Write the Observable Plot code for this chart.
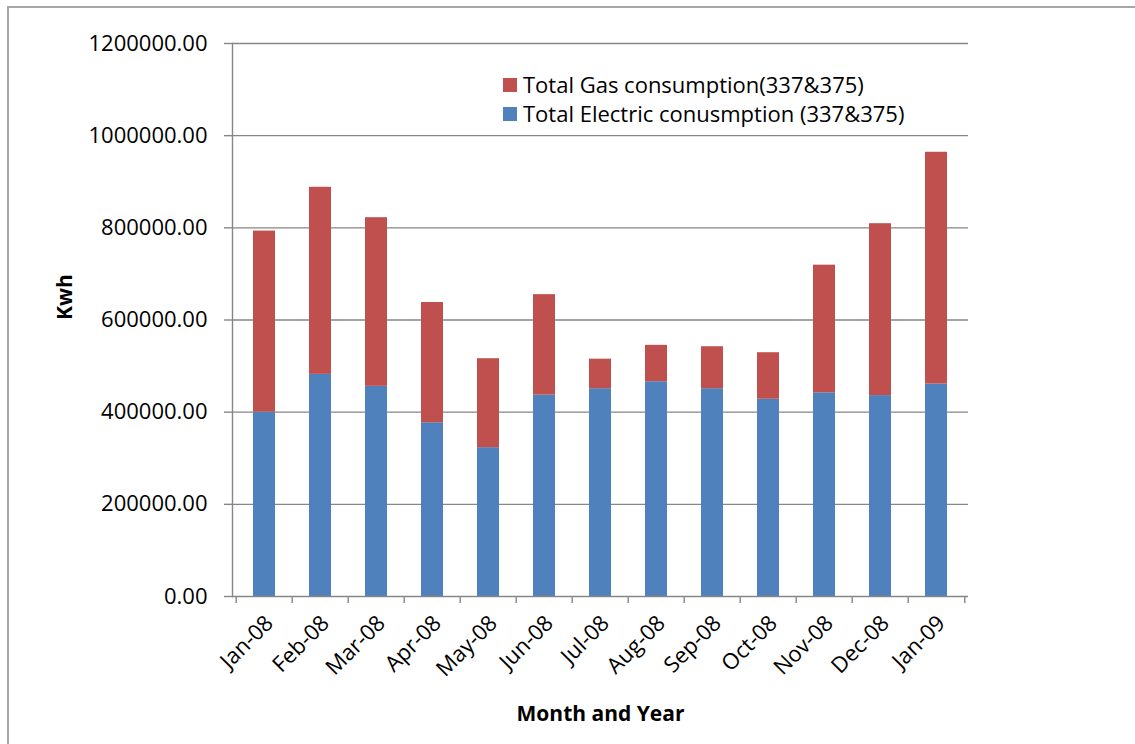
<!DOCTYPE html>
<html>
<head>
<meta charset="utf-8">
<script src="https://cdn.jsdelivr.net/npm/d3@7"></script>
<script src="https://cdn.jsdelivr.net/npm/@observablehq/plot@0.6"></script>
<style>
  body { margin: 0; background: #fff; font-family: "Open Sans", sans-serif; }
  #wrap { position: relative; width: 1135px; height: 744px; overflow: hidden; }
  #border { position: absolute; left: 7px; top: 6px; width: 1300px; height: 900px;
            border-left: 2px solid #a6a6a6; border-top: 2px solid #a6a6a6; }
  #chart { position: absolute; left: 0; top: 0; }
  .legend { position: absolute; left: 503px; top: 70px; font-size: 22px; line-height: 29px; color: #000; }
  .legend div { display: flex; align-items: center; white-space: nowrap; }
  .legend .sw { display: inline-block; width: 14px; height: 14px; margin-right: 6px; }
</style>
</head>
<body>
<div id="wrap">
  <div id="border"></div>
  <div id="chart"></div>
  <div class="legend" id="legend"></div>
</div>
<script>
// Monthly consumption for buildings 337 & 375, in kWh
const months = ["Jan-08", "Feb-08", "Mar-08", "Apr-08", "May-08", "Jun-08", "Jul-08",
                "Aug-08", "Sep-08", "Oct-08", "Nov-08", "Dec-08", "Jan-09"];
const electric = [400000, 482000, 456000, 377000, 323000, 437000, 451000,
                  466000, 451000, 428000, 442000, 436000, 461000];
const gas = [393000, 406000, 366000, 261000, 193000, 218000, 64000,
             79000, 91000, 101000, 277000, 373000, 503000];
const seriesNames = ["Total Gas consumption(337&375)", "Total Electric conusmption (337&375)"];
const seriesColors = ["#C0504D", "#4F81BD"];
const yTicks = [0, 200000, 400000, 600000, 800000, 1000000, 1200000];

const W = 1135, H = 744;
const ML = 232, MR = 167, MT = 43, MB = 148;
const step = (W - ML - MR) / months.length;
const axisColor = "#868686";

// electric first so it sits at the bottom of each stack
const rows = months.flatMap((m, i) => [
  {month: m, series: seriesNames[1], value: electric[i]},
  {month: m, series: seriesNames[0], value: gas[i]}
]);

const plot = Plot.plot({
  width: W, height: H,
  marginLeft: ML, marginRight: MR, marginTop: MT, marginBottom: MB,
  style: {fontFamily: "'Open Sans', sans-serif", fontSize: "22px", color: "#000", background: "transparent"},
  x: {domain: months, paddingInner: 0.6, paddingOuter: 0.3, label: null},
  y: {domain: [0, 1200000], label: null},
  color: {domain: seriesNames, range: seriesColors},
  marks: [
    Plot.gridY(yTicks.slice(1), {stroke: axisColor, strokeOpacity: 1, strokeWidth: 1.4}),
    Plot.barY(rows, {x: "month", y: "value", fill: "series"}),
    Plot.ruleY([0], {stroke: axisColor, strokeWidth: 1.4}),
    Plot.frame({anchor: "left", stroke: axisColor, strokeWidth: 1.4}),
    Plot.axisY(yTicks, {tickSize: 8, tickPadding: 17, tickFormat: d => d.toFixed(2),
                        stroke: axisColor, strokeWidth: 1.4, fontSize: 22, fill: "#000", label: null}),
    // category boundary ticks
    Plot.axisX(months, {tickSize: 7, dx: -step / 2, tickFormat: () => "", stroke: axisColor, strokeWidth: 1.4, label: null}),
    Plot.axisX(months.slice(-1), {tickSize: 7, dx: step / 2, tickFormat: () => "", stroke: axisColor, strokeWidth: 1.4, label: null}),
    // rotated month labels
    Plot.axisX({tickSize: 0, tickRotate: -45, tickPadding: 6, dx: 5, dy: 17, fontSize: 22, fill: "#000", label: null}),
    Plot.text(["Kwh"], {frameAnchor: "left", dx: 65 - ML, rotate: -90, fontWeight: "bold", fontSize: 21, fill: "#000"}),
    Plot.text(["Month and Year"], {frameAnchor: "bottom", dy: 124, fontWeight: "bold", fontSize: 21, fill: "#000"})
  ]
});
document.getElementById("chart").append(plot);

const legend = document.getElementById("legend");
seriesNames.forEach((name, i) => {
  const row = document.createElement("div");
  const sw = document.createElement("span");
  sw.className = "sw";
  sw.style.background = seriesColors[i];
  row.append(sw, document.createTextNode(name));
  legend.append(row);
});
</script>
</body>
</html>
